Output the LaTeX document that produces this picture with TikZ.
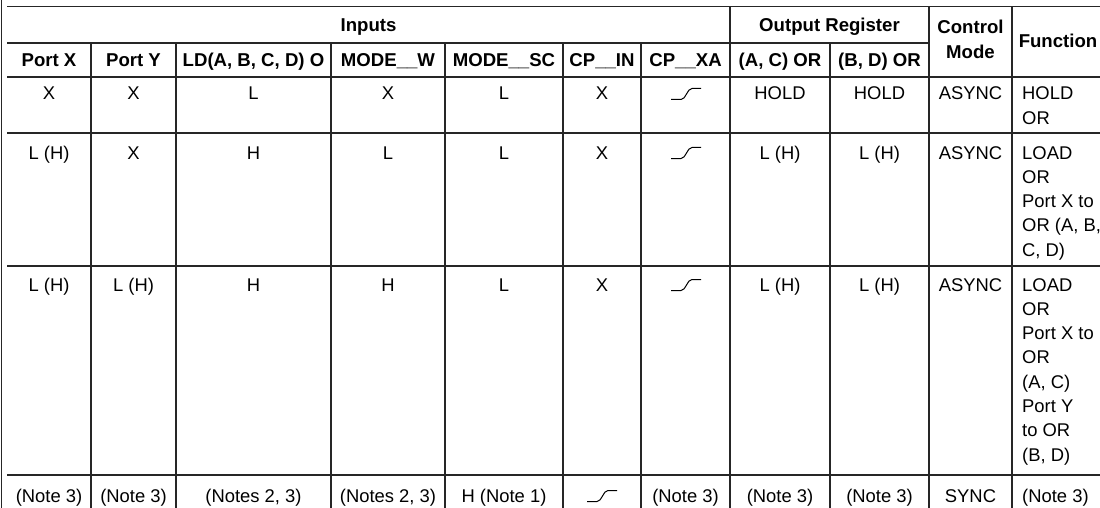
\documentclass[tikz,border=0pt]{standalone}
\usepackage{fontspec}
\setmainfont{Liberation Sans}

\begin{document}
\begin{tikzpicture}[x=1pt, y=-1pt,
    grid_line/.style={line width=1.2pt, black!85},
    head_text/.style={anchor=base, inner sep=0pt, font=\fontsize{18.6}{25}\selectfont\bfseries},
    cell_text/.style={anchor=base, inner sep=0pt, font=\fontsize{18.4}{24.3}\selectfont},
    func_text/.style={cell_text, anchor=base west},
    clk_rise/.pic={\draw[line width=1pt] (-15,5.5) -- (-5,5.5) .. controls (0,5.5) and (1,-5.5) .. (6,-5.5) -- (15,-5.5);}
]
\useasboundingbox (0,0) rectangle (1100,508);

% Table rules
\draw[grid_line] (1.5,0) -- (1.5,508);
\draw[grid_line] (7,6.5) -- (1100,6.5);
\draw[grid_line] (7,43) -- (929,43);
\draw[grid_line] (7,77) -- (1100,77);
\draw[grid_line] (7,133) -- (1100,133);
\draw[grid_line] (7,266) -- (1100,266);
\draw[grid_line] (7,475) -- (1100,475);

% Column separators
\draw[grid_line] (91,43) -- (91,508);
\draw[grid_line] (176,43) -- (176,508);
\draw[grid_line] (331,43) -- (331,508);
\draw[grid_line] (445,43) -- (445,508);
\draw[grid_line] (563,43) -- (563,508);
\draw[grid_line] (641,43) -- (641,508);
\draw[grid_line] (830,43) -- (830,508);
\draw[grid_line] (730,6.5) -- (730,508);
\draw[grid_line] (929,6.5) -- (929,508);
\draw[grid_line] (1012,6.5) -- (1012,508);

% Header, first line
\node[head_text] (inputs) at (368.5,32) {Inputs};
\node[head_text] (outreg) at (829.5,32) {Output Register};
\node[head_text] (ctrlmode) at (970.5,34) {\begin{tabular}[t]{@{}c@{}}Control\\Mode\end{tabular}};
\node[head_text] (function) at (1058,48) {Function};

% Header, second line
\node[head_text] (h_portx) at (49,67) {Port X};
\node[head_text] (h_porty) at (133.5,67) {Port Y};
\node[head_text] (h_ld) at (253.5,67) {LD(A, B, C, D) O};
\node[head_text] (h_modew) at (388,67) {MODE\_\_W};
\node[head_text] (h_modesc) at (504,67) {MODE\_\_SC};
\node[head_text] (h_cpin) at (602,67) {CP\_\_IN};
\node[head_text] (h_cpxa) at (685.5,67) {CP\_\_XA};
\node[head_text] (h_acor) at (780,67) {(A, C) OR};
\node[head_text] (h_bdor) at (879.5,67) {(B, D) OR};

% Row 1: hold
\node[cell_text] (r1_portx) at (49,100) {X};
\node[cell_text] (r1_porty) at (133.5,100) {X};
\node[cell_text] (r1_ld) at (253.5,100) {L};
\node[cell_text] (r1_modew) at (388,100) {X};
\node[cell_text] (r1_modesc) at (504,100) {L};
\node[cell_text] (r1_cpin) at (602,100) {X};
\pic (r1_cpxa) at (686,94) {clk_rise};
\node[cell_text] (r1_acor) at (780,100) {HOLD};
\node[cell_text] (r1_bdor) at (879.5,100) {HOLD};
\node[cell_text] (r1_ctrl) at (970.5,100) {ASYNC};
\node[func_text] (r1_func) at (1022,100) {\begin{tabular}[t]{@{}l@{}}HOLD\\OR\end{tabular}};

% Row 2: load from port X
\node[cell_text] (r2_portx) at (49,159) {L (H)};
\node[cell_text] (r2_porty) at (133.5,159) {X};
\node[cell_text] (r2_ld) at (253.5,159) {H};
\node[cell_text] (r2_modew) at (388,159) {L};
\node[cell_text] (r2_modesc) at (504,159) {L};
\node[cell_text] (r2_cpin) at (602,159) {X};
\pic (r2_cpxa) at (686,153) {clk_rise};
\node[cell_text] (r2_acor) at (780,159) {L (H)};
\node[cell_text] (r2_bdor) at (879.5,159) {L (H)};
\node[cell_text] (r2_ctrl) at (970.5,159) {ASYNC};
\node[func_text] (r2_func) at (1022,159) {\begin{tabular}[t]{@{}l@{}}LOAD\\OR\\Port X to\\OR (A, B,\\C, D)\end{tabular}};

% Row 3: load from ports X and Y
\node[cell_text] (r3_portx) at (49,291) {L (H)};
\node[cell_text] (r3_porty) at (133.5,291) {L (H)};
\node[cell_text] (r3_ld) at (253.5,291) {H};
\node[cell_text] (r3_modew) at (388,291) {H};
\node[cell_text] (r3_modesc) at (504,291) {L};
\node[cell_text] (r3_cpin) at (602,291) {X};
\pic (r3_cpxa) at (686,285) {clk_rise};
\node[cell_text] (r3_acor) at (780,291) {L (H)};
\node[cell_text] (r3_bdor) at (879.5,291) {L (H)};
\node[cell_text] (r3_ctrl) at (970.5,291) {ASYNC};
\node[func_text] (r3_func) at (1022,291) {\begin{tabular}[t]{@{}l@{}}LOAD\\OR\\Port X to\\OR\\(A, C)\\Port Y\\to OR\\(B, D)\end{tabular}};

% Row 4: sync
\node[cell_text] (r4_portx) at (49,502) {(Note 3)};
\node[cell_text] (r4_porty) at (133.5,502) {(Note 3)};
\node[cell_text] (r4_ld) at (253.5,502) {(Notes 2, 3)};
\node[cell_text] (r4_modew) at (388,502) {(Notes 2, 3)};
\node[cell_text] (r4_modesc) at (504,502) {H (Note 1)};
\pic (r4_cpin) at (602,496) {clk_rise};
\node[cell_text] (r4_cpxa) at (685.5,502) {(Note 3)};
\node[cell_text] (r4_acor) at (780,502) {(Note 3)};
\node[cell_text] (r4_bdor) at (879.5,502) {(Note 3)};
\node[cell_text] (r4_ctrl) at (970.5,502) {SYNC};
\node[func_text] (r4_func) at (1022,502) {(Note 3)};

\end{tikzpicture}
\end{document}
